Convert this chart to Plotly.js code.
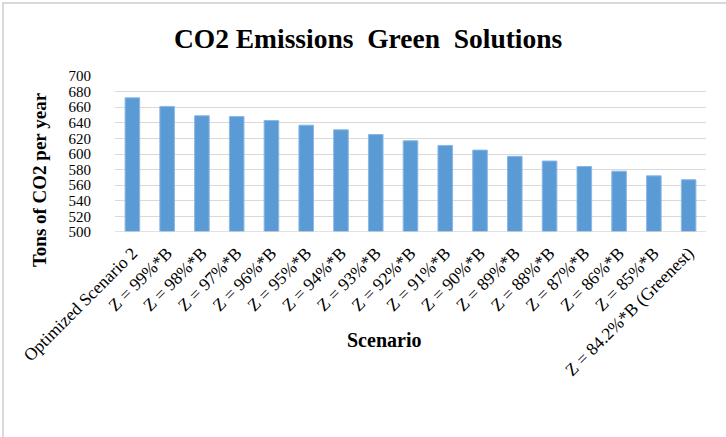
<!DOCTYPE html>
<html>
<head>
<meta charset="utf-8">
<script src="https://cdn.plot.ly/plotly-3.0.1.min.js"></script>
<style>
  html, body { margin: 0; padding: 0; background: #fff; }
  #wrap { position: relative; width: 726px; height: 437px; overflow: hidden; }
  #chart { position: absolute; left: 0; top: 0; width: 726px; height: 437px; }
  #frame { position: absolute; left: 2px; top: 2px; width: 730px; height: 440px;
           border-top: 2px solid #d9d9d9; border-left: 2px solid #d9d9d9; pointer-events: none; }
</style>
</head>
<body>
<div id="wrap">
  <div id="chart"></div>
  <div id="frame"></div>
</div>
<script>
const categories = [
  "Optimized Scenario 2",
  "Z = 99%*B", "Z = 98%*B", "Z = 97%*B", "Z = 96%*B", "Z = 95%*B",
  "Z = 94%*B", "Z = 93%*B", "Z = 92%*B", "Z = 91%*B", "Z = 90%*B",
  "Z = 89%*B", "Z = 88%*B", "Z = 87%*B", "Z = 86%*B", "Z = 85%*B",
  "Z = 84.2%*B (Greenest)"
];
const emissions = [672, 661, 649, 648, 643, 637, 631, 625, 617, 611, 605, 597, 591, 584, 578, 572, 567];
const yTicks = [500, 520, 540, 560, 580, 600, 620, 640, 660, 680, 700];

const serif = "'Liberation Serif', 'Times New Roman', serif";

const trace = {
  type: "bar",
  x: categories,
  y: emissions,
  marker: { color: "#5b9bd5", line: { color: "#8cb8e4", width: 1 } },
  hoverinfo: "x+y"
};

const layout = {
  width: 726,
  height: 437,
  margin: { l: 115, r: 20, t: 76, b: 205 },
  paper_bgcolor: "#ffffff",
  plot_bgcolor: "#ffffff",
  showlegend: false,
  bargap: 0.58,
  font: { family: serif, color: "#000000" },
  title: {
    text: "<b>CO2 Emissions  Green  Solutions</b>",
    font: { family: serif, size: 27.5, color: "#000000" },
    x: 0.507, xanchor: "center", y: 0.913, yanchor: "middle"
  },
  xaxis: {
    type: "category",
    tickangle: -45,
    tickfont: { family: serif, size: 17.5, color: "#000000" },
    showgrid: false,
    showline: false,
    ticks: "outside",
    ticklen: 3,
    tickcolor: "rgba(0,0,0,0)",
    automargin: false
  },
  yaxis: {
    range: [500, 700],
    tickvals: yTicks,
    ticktext: yTicks.map(String),
    tickfont: { family: serif, size: 15, color: "#000000" },
    showgrid: true,
    gridcolor: "#d9d9d9",
    gridwidth: 1,
    zeroline: false,
    showline: false,
    ticks: "outside",
    ticklen: 20,
    tickcolor: "rgba(0,0,0,0)",
    automargin: false
  },
  shapes: [
    { type: "line", xref: "paper", yref: "y", x0: 0, x1: 1, y0: 500, y1: 500,
      line: { color: "#d9d9d9", width: 1.5 } }
  ],
  annotations: [
    { text: "<b>Tons of CO2 per year</b>", xref: "paper", yref: "paper",
      x: -0.128, y: 0.335, xanchor: "center", yanchor: "middle", showarrow: false,
      textangle: -90,
      font: { family: serif, size: 19, color: "#000000" } },
    { text: "<b>Scenario</b>", xref: "paper", yref: "paper",
      x: 0.455, y: -0.69, xanchor: "center", yanchor: "middle", showarrow: false,
      font: { family: serif, size: 20, color: "#000000" } }
  ]
};

Plotly.newPlot("chart", [trace], layout, { displayModeBar: false, staticPlot: true });
</script>
</body>
</html>
